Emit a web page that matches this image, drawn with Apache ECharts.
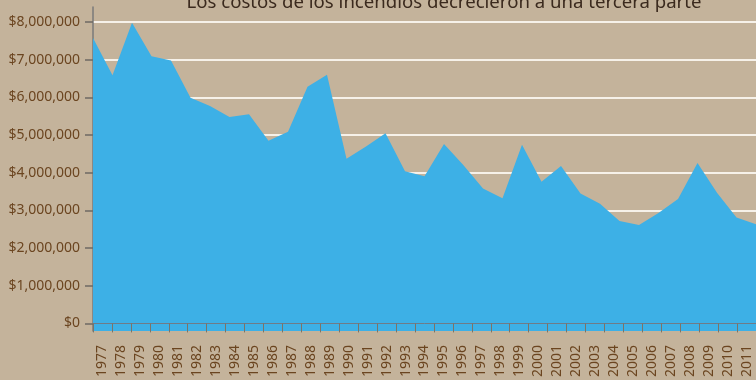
<!DOCTYPE html>
<html>
<head>
<meta charset="utf-8">
<style>
  html, body { margin: 0; padding: 0; background: #c4b39b; }
  #chart { width: 756px; height: 380px; }
</style>
<script src="https://cdn.jsdelivr.net/npm/echarts@6/dist/echarts.min.js"></script>
</head>
<body>
<div id="chart"></div>
<script>
// Years shown along the horizontal axis
const years = [
  '1977','1978','1979','1980','1981','1982','1983','1984','1985','1986',
  '1987','1988','1989','1990','1991','1992','1993','1994','1995','1996',
  '1997','1998','1999','2000','2001','2002','2003','2004','2005','2006',
  '2007','2008','2009','2010','2011'
];

// Yearly fire costs, in dollars
const costs = [
  7580000, 6590000, 7980000, 7090000, 6980000, 5990000, 5770000, 5480000, 5550000, 4850000,
  5090000, 6280000, 6600000, 4370000, 4700000, 5050000, 4040000, 3910000, 4760000, 4200000,
  3580000, 3320000, 4740000, 3760000, 4180000, 3450000, 3180000, 2720000, 2610000, 2930000,
  3300000, 4260000, 3470000, 2810000, 2630000
];

// Dollar tick values on the vertical axis
const yTicks = [0, 1000000, 2000000, 3000000, 4000000, 5000000, 6000000, 7000000, 8000000];

const titleText = 'Los costos de los incendios decrecieron a una tercera parte';

const fmtDollars = v => '$' + Math.round(v).toString().replace(/\B(?=(\d{3})+(?!\d))/g, ',');

const chart = echarts.init(document.getElementById('chart'), null, { renderer: 'canvas' });

chart.setOption({
  backgroundColor: '#c4b39b',
  animation: false,
  title: {
    text: titleText,
    left: 439,
    top: -12,
    textAlign: 'center',
    textStyle: {
      fontFamily: 'Noto Sans',
      fontSize: 18.6,
      fontWeight: 'normal',
      color: '#3b2a1e'
    }
  },
  grid: { left: 93, right: 0, top: 7, bottom: 46, containLabel: false },
  xAxis: [
    {
      // labelled axis: one slot per year, ticks between the slots
      type: 'category',
      data: years,
      boundaryGap: true,
      axisLine: { show: true, lineStyle: { color: '#6f7c88', width: 1 } },
      axisTick: { show: true, length: 9, lineStyle: { color: '#7a7468', width: 1 } },
      axisLabel: {
        rotate: 90,
        interval: 0,
        margin: 14,
        fontFamily: 'Noto Sans',
        fontSize: 14,
        color: '#6b4520'
      },
      splitLine: { show: false },
      z: 3
    },
    {
      // data axis: points sit on the slot edges, first and last at the plot edges
      type: 'category',
      data: years,
      boundaryGap: false,
      show: false
    }
  ],
  yAxis: {
    type: 'value',
    min: -200000,
    max: 8400000,
    axisLine: { show: true, lineStyle: { color: '#7a7a7a', width: 1.5 } },
    axisTick: {
      show: true,
      length: 8,
      customValues: yTicks,
      lineStyle: { color: '#6e6a64', width: 1.5 }
    },
    axisLabel: {
      customValues: yTicks,
      formatter: fmtDollars,
      margin: 13,
      fontFamily: 'Noto Sans',
      fontSize: 14,
      color: '#6b4520'
    },
    splitLine: {
      show: true,
      lineStyle: { color: '#f6f1e9', width: 2 }
    }
  },
  series: [
    {
      type: 'line',
      xAxisIndex: 1,
      data: costs,
      symbol: 'none',
      lineStyle: { width: 0 },
      areaStyle: { color: '#3db0e6', opacity: 1, origin: 'start' },
      itemStyle: { color: '#3db0e6' },
      z: 2
    }
  ]
});
</script>
</body>
</html>
